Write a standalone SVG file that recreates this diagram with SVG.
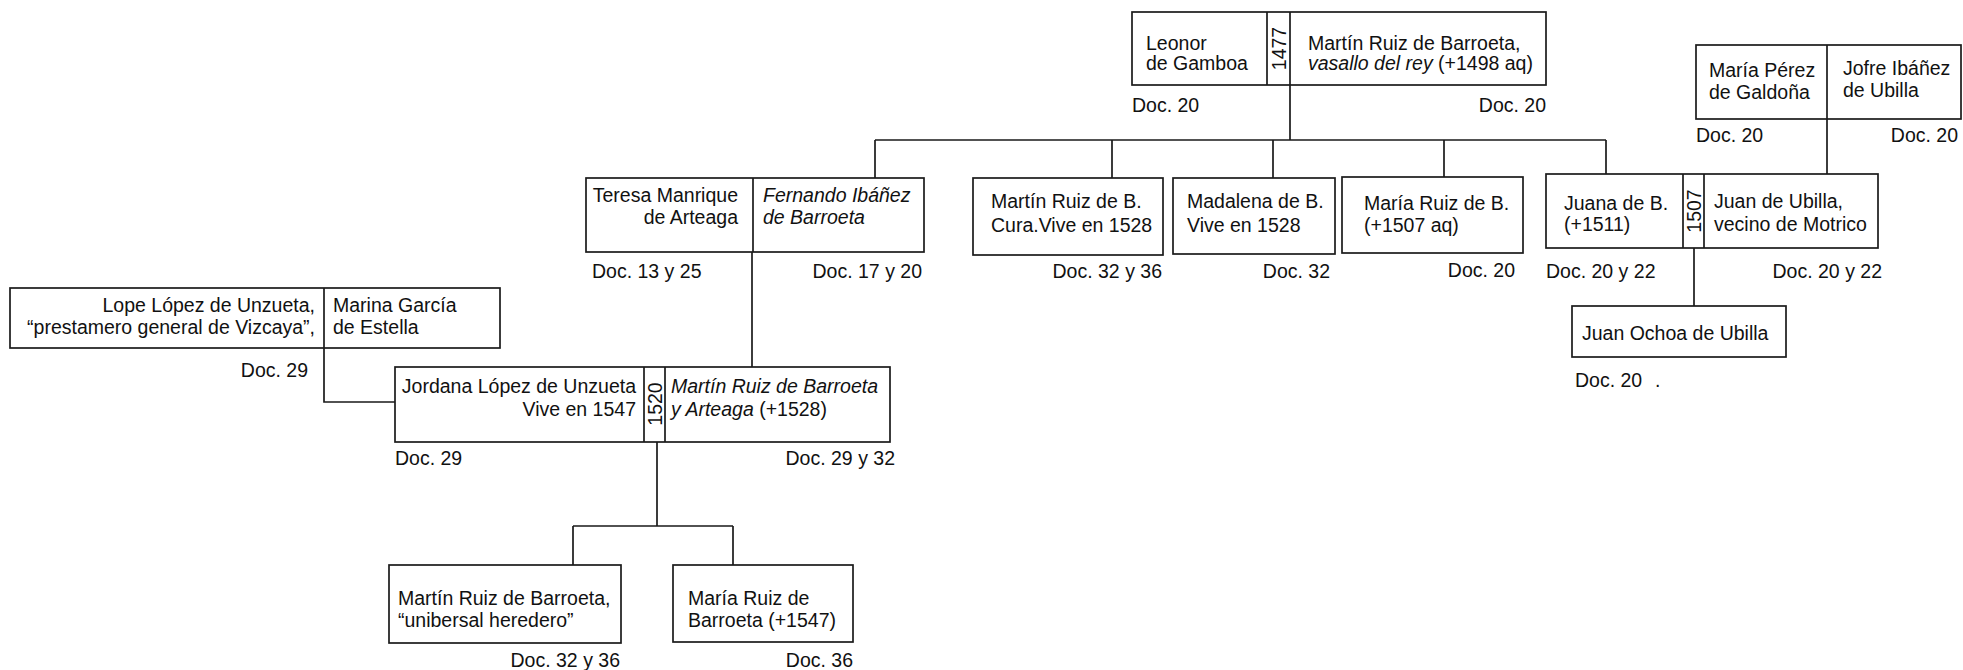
<svg xmlns="http://www.w3.org/2000/svg" width="1963" height="670" viewBox="0 0 1963 670">
<style>
text{font-family:"Liberation Sans",Arial,sans-serif;font-size:19.5px;fill:#111}
.i{font-style:italic}
.e{text-anchor:end}
.y{font-size:19.5px;text-anchor:middle;dominant-baseline:central}
.b{fill:#fff;stroke:#1a1a1a;stroke-width:1.7}
.d{stroke:#1a1a1a;stroke-width:1.7;fill:none}
#connectors path{stroke:#1a1a1a;stroke-width:1.7;fill:none}
</style>
<rect width="1963" height="670" fill="#fff"/>
<g id="connectors">
<path d="M1290 85V140M875 140H1606M875 140V178M1112 140V178M1273 140V178M1444 140V177M1606 140V174"/>
<path d="M1827 119V174"/>
<path d="M1694 248V306"/>
<path d="M752 252V367"/>
<path d="M324 348V402H395"/>
<path d="M657 442V526M573 526H733M573 526V565M733 526V565"/>
</g>
<g id="n-leonor-martin">
<rect class="b" x="1132" y="12" width="414" height="73"/>
<path class="d" d="M1267 12V85M1290 12V85"/>
<text x="1146" y="50">Leonor</text>
<text x="1146" y="70">de Gamboa</text>
<text class="y" transform="translate(1279,48.5) rotate(-90)">1477</text>
<text x="1308" y="50">Martín Ruiz de Barroeta,</text>
<text x="1308" y="70"><tspan class="i">vasallo del rey</tspan> (+1498 aq)</text>
<text x="1132" y="112">Doc. 20</text>
<text class="e" x="1546" y="112">Doc. 20</text>
</g>
<g id="n-maria-jofre">
<rect class="b" x="1696" y="45" width="265" height="74"/>
<path class="d" d="M1827 45V119"/>
<text x="1709" y="77">María Pérez</text>
<text x="1709" y="99">de Galdoña</text>
<text x="1843" y="75">Jofre Ibáñez</text>
<text x="1843" y="97">de Ubilla</text>
<text x="1696" y="142">Doc. 20</text>
<text class="e" x="1958" y="142">Doc. 20</text>
</g>
<g id="n-teresa-fernando">
<rect class="b" x="586" y="178" width="338" height="74"/>
<path class="d" d="M753 178V252"/>
<text class="e" x="738" y="202">Teresa Manrique</text>
<text class="e" x="738" y="224">de Arteaga</text>
<text class="i" x="763" y="202">Fernando Ibáñez</text>
<text class="i" x="763" y="224">de Barroeta</text>
<text x="592" y="278">Doc. 13 y 25</text>
<text class="e" x="922" y="278">Doc. 17 y 20</text>
</g>
<g id="n-martin-cura">
<rect class="b" x="973" y="178" width="190" height="77"/>
<text x="991" y="208">Martín Ruiz de B.</text>
<text x="991" y="232">Cura.Vive en 1528</text>
<text class="e" x="1162" y="278">Doc. 32 y 36</text>
</g>
<g id="n-madalena">
<rect class="b" x="1173" y="178" width="162" height="76"/>
<text x="1187" y="208">Madalena de B.</text>
<text x="1187" y="232">Vive en 1528</text>
<text class="e" x="1330" y="278">Doc. 32</text>
</g>
<g id="n-maria-ruiz">
<rect class="b" x="1342" y="177" width="181" height="76"/>
<text x="1364" y="210">María Ruiz de B.</text>
<text x="1364" y="232">(+1507 aq)</text>
<text class="e" x="1515" y="277">Doc. 20</text>
</g>
<g id="n-juana-juan">
<rect class="b" x="1546" y="174" width="332" height="74"/>
<path class="d" d="M1683 174V248M1704 174V248"/>
<text x="1564" y="210">Juana de B.</text>
<text x="1564" y="231">(+1511)</text>
<text class="y" transform="translate(1694,211) rotate(-90)">1507</text>
<text x="1714" y="208">Juan de Ubilla,</text>
<text x="1714" y="231">vecino de Motrico</text>
<text x="1546" y="278">Doc. 20 y 22</text>
<text class="e" x="1882" y="278">Doc. 20 y 22</text>
</g>
<g id="n-juan-ochoa">
<rect class="b" x="1572" y="306" width="214" height="51"/>
<text x="1582" y="340">Juan Ochoa de Ubilla</text>
<text x="1575" y="387">Doc. 20</text>
<text x="1655" y="387">.</text>
</g>
<g id="n-lope-marina">
<rect class="b" x="10" y="288" width="490" height="60"/>
<path class="d" d="M324 288V348"/>
<text class="e" x="315" y="312">Lope López de Unzueta,</text>
<text class="e" x="315" y="334">“prestamero general de Vizcaya”,</text>
<text x="333" y="312">Marina García</text>
<text x="333" y="334">de Estella</text>
<text class="e" x="308" y="377">Doc. 29</text>
</g>
<g id="n-jordana-martin">
<rect class="b" x="395" y="367" width="495" height="75"/>
<path class="d" d="M644 367V442M665 367V442"/>
<text class="e" x="636" y="393">Jordana López de Unzueta</text>
<text class="e" x="636" y="416">Vive en 1547</text>
<text class="y" transform="translate(655,404) rotate(-90)">1520</text>
<text class="i" x="671" y="393">Martín Ruiz de Barroeta</text>
<text x="671" y="416"><tspan class="i">y Arteaga</tspan> (+1528)</text>
<text x="395" y="465">Doc. 29</text>
<text class="e" x="895" y="465">Doc. 29 y 32</text>
</g>
<g id="n-martin-heredero">
<rect class="b" x="389" y="565" width="232" height="78"/>
<text x="398" y="605">Martín Ruiz de Barroeta,</text>
<text x="398" y="627">“unibersal heredero”</text>
<text class="e" x="620" y="667">Doc. 32 y 36</text>
</g>
<g id="n-maria-barroeta">
<rect class="b" x="673" y="565" width="180" height="77"/>
<text x="688" y="605">María Ruiz de</text>
<text x="688" y="627">Barroeta (+1547)</text>
<text class="e" x="853" y="667">Doc. 36</text>
</g>
</svg>
